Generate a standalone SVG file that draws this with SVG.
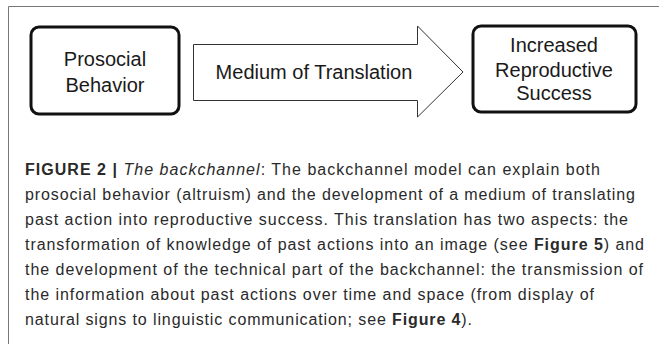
<svg xmlns="http://www.w3.org/2000/svg" width="659" height="344" viewBox="0 0 659 344">
<style>
.node{fill:#fff;stroke:#111;stroke-width:3}
.lbl{font-family:"Liberation Sans",Arial,sans-serif;font-size:20px;fill:#1a1a1a;text-anchor:middle}
.cap{font-family:"Liberation Sans",Arial,sans-serif;font-size:16px;fill:#2a2a2a}
.b{font-weight:bold}
.i{font-style:italic}
</style>
<rect width="659" height="344" fill="#fff"/>
<path d="M8.5 344 V6.5 H659" fill="none" stroke="#777" stroke-width="1"/>
<g id="connectors">
<path d="M193.5 44.5 H417.5 V26 L463 72 L417.5 117 V100.5 H193.5 Z" fill="#fff" stroke="#333" stroke-width="1"/>
<text class="lbl" x="314" y="79">Medium of Translation</text>
</g>
<g id="prosocial">
<rect class="node" x="31" y="27" width="148" height="87" rx="8"/>
<text class="lbl" x="105" y="66">Prosocial</text>
<text class="lbl" x="105" y="92">Behavior</text>
</g>
<g id="increased">
<rect class="node" x="473" y="26" width="163" height="86" rx="8"/>
<text class="lbl" x="554" y="52">Increased</text>
<text class="lbl" x="554" y="77">Reproductive</text>
<text class="lbl" x="554" y="100">Success</text>
</g>
<g id="caption">
<text class="cap" x="25" y="175" textLength="575" lengthAdjust="spacing"><tspan class="b">FIGURE 2 |</tspan> <tspan class="i">The backchannel</tspan>: The backchannel model can explain both</text>
<text class="cap" x="25" y="200" textLength="610" lengthAdjust="spacing">prosocial behavior (altruism) and the development of a medium of translating</text>
<text class="cap" x="25" y="225" textLength="603" lengthAdjust="spacing">past action into reproductive success. This translation has two aspects: the</text>
<text class="cap" x="25" y="250" textLength="619" lengthAdjust="spacing">transformation of knowledge of past actions into an image (see <tspan class="b">Figure 5</tspan>) and</text>
<text class="cap" x="25" y="275" textLength="618" lengthAdjust="spacing">the development of the technical part of the backchannel: the transmission of</text>
<text class="cap" x="25" y="300" textLength="569" lengthAdjust="spacing">the information about past actions over time and space (from display of</text>
<text class="cap" x="25" y="325" textLength="447" lengthAdjust="spacing">natural signs to linguistic communication; see <tspan class="b">Figure 4</tspan>).</text>
</g>
</svg>
